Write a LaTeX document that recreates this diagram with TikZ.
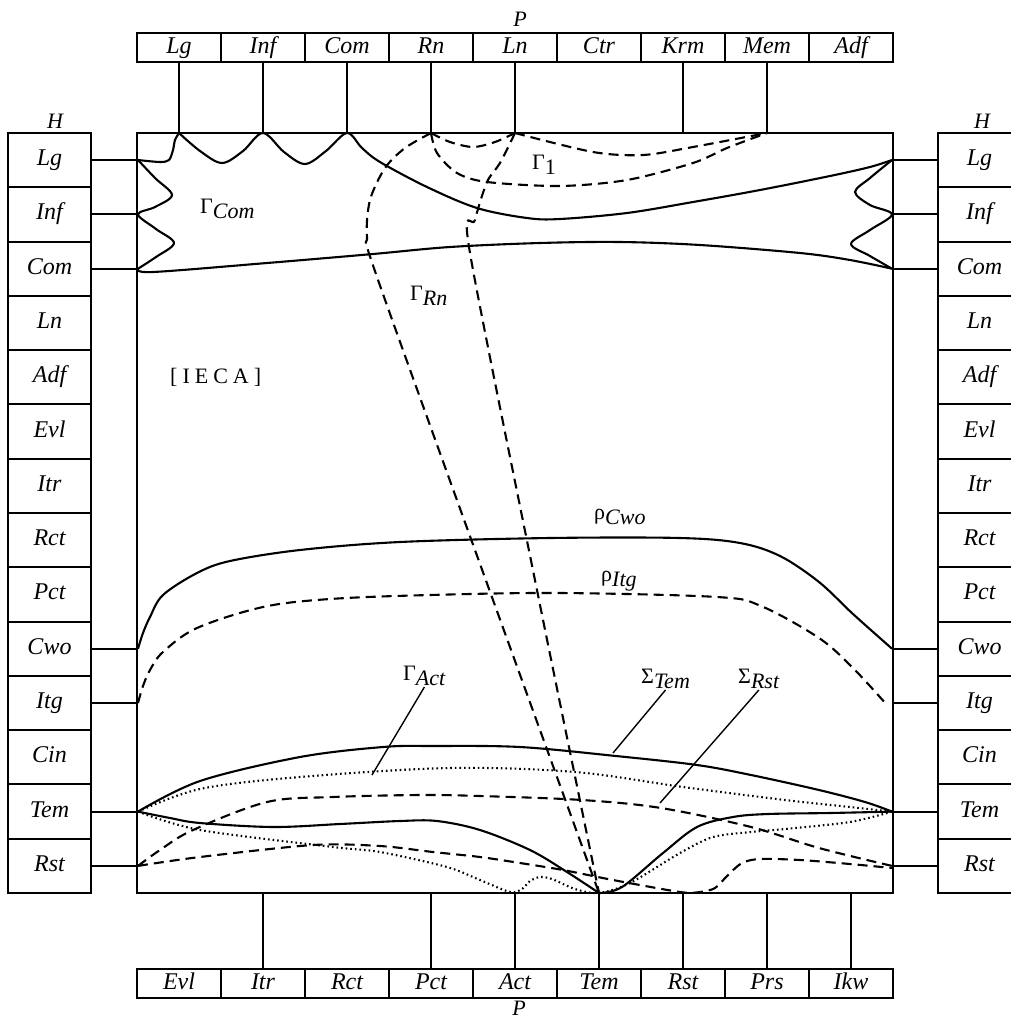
\documentclass[tikz,border=0pt]{standalone}
\usepackage{fontspec}
\setmainfont{Liberation Serif}
\newcommand{\glab}[2]{#1\raisebox{-0.55ex}{\textit{#2}}}
\begin{document}
\begin{tikzpicture}[x=1pt,y=-1pt,
  cell/.style={draw, line width=2pt, inner sep=0pt, minimum width=84pt, minimum height=29pt, text height=16pt, text depth=5pt, font=\itshape\fontsize{24}{26}\selectfont},
  side/.style={draw, line width=2pt, inner sep=0pt, minimum width=83pt, minimum height=54.29pt, text height=16pt, text depth=5pt, font=\itshape\fontsize{24}{26}\selectfont},
  mainbox/.style={draw, line width=2.2pt, inner sep=0pt, minimum width=756pt, minimum height=760pt},
  link/.style={line width=2.1pt},
  solidc/.style={line width=2.1pt, line join=round},
  dashc/.style={line width=2.1pt, dash pattern=on 10pt off 6pt},
  dotc/.style={line width=2.1pt, dash pattern=on 1.6pt off 3pt},
  leader/.style={line width=1.4pt},
  lab/.style={inner sep=1pt, font=\fontsize{22}{24}\selectfont},
  axislab/.style={inner sep=0pt, font=\itshape\fontsize{22}{24}\selectfont}]
\useasboundingbox (0,0) rectangle (1011,1021);

% main frame
\node[mainbox] (main) at (515,513) {};

% top and bottom bars
\foreach \n [count=\i] in {Lg,Inf,Com,Rn,Ln,Ctr,Krm,Mem,Adf}
  \node[cell] (t\i) at ({137+84*(\i-0.5)},47.5) {\n};
\foreach \n [count=\i] in {Evl,Itr,Rct,Pct,Act,Tem,Rst,Prs,Ikw}
  \node[cell] (b\i) at ({137+84*(\i-0.5)},983.5) {\n};

% side columns
\foreach \n [count=\i] in {Lg,Inf,Com,Ln,Adf,Evl,Itr,Rct,Pct,Cwo,Itg,Cin,Tem,Rst}{
  \node[side] (l\i) at (49.5,{133+54.2857*(\i-0.5)}) {\n};
  \node[side] (r\i) at (979.5,{133+54.2857*(\i-0.5)}) {\n};
}

% axis labels
\node[axislab] (ptop) at (520,19) {P};
\node[axislab] (pbot) at (519,1008) {P};
\node[axislab] (hl) at (55,121) {H};
\node[axislab] (hr) at (982,121) {H};

% connectors
\foreach \i in {1,2,3,4,5,7,8}
  \draw[link] (t\i.south) -- (t\i.south |- main.north);
\foreach \i in {2,4,5,6,7,8,9}
  \draw[link] (b\i.north) -- (b\i.north |- main.south);
\foreach \i in {1,2,3,10,11,13,14}{
  \draw[link] (l\i.east) -- (l\i.east -| main.west);
  \draw[link] (r\i.west) -- (r\i.west -| main.east);
}

% ---- Gamma_Com region (solid) ----
\draw[solidc] plot[smooth, tension=0.5] coordinates {(138,160) (160,162) (169,160) (173,150) (175,140) (179,133)};
\draw[solidc] plot[smooth, tension=0.55] coordinates {(179,133) (200,151) (222,163) (243,151) (263,133) (284,152) (305,164) (326,151) (347,133) (362,148) (380,162) (427,187) (477,208) (527,218) (560,219) (627,213) (693,202) (760,190) (830,176) (870,167) (892,160)};
\draw[solidc] plot[smooth, tension=0.55] coordinates {(138,160) (155,178) (172,195) (155,207) (138,214.4) (156,229) (174,243) (156,257) (138,268.7)};
\draw[solidc] plot[smooth, tension=0.55] coordinates {(138,268.7) (153,272) (267,263) (373,254) (450,247) (540,243) (620,242) (700,245) (800,253) (850,260) (892,268.7)};
\draw[solidc] plot[smooth, tension=0.55] coordinates {(892,160) (870,178) (855,192) (870,205) (892,214.4) (870,230) (851,244) (870,256) (892,268.7)};

% ---- Gamma_1 and Gamma_Rn (dashed) ----
\draw[dashc] plot[smooth] coordinates {(431,133) (450,142) (473,147) (495,142) (515,133)};
\draw[dashc] plot[smooth] coordinates {(515,133) (593,152) (643,155) (693,147) (767,133)};
\draw[dashc] plot[smooth] coordinates {(431,133) (437,153) (457,173) (487,182) (560,186) (627,180) (693,163) (727,148) (767,133)};
\draw[dashc] plot[smooth] coordinates {(431,133) (405,148) (385,168) (370,200) (367,237) (377,277) (493,600) (599,893)};
\draw[dashc] plot[smooth] coordinates {(515,133) (500,163) (487,182) (475,220) (470,253) (539,600) (599,893)};

% ---- rho curves ----
\draw[solidc] plot[smooth, tension=0.55] coordinates {(138,648.7) (143,633) (150,617) (163,595) (197,573) (230,561) (300,550) (400,542) (550,538) (680,538) (740,543) (780,556) (819,582) (853,614) (892,648.7)};
\draw[dashc] plot[smooth, tension=0.55] coordinates {(138,703) (143,686) (150,670) (163,652) (197,628) (263,607) (330,599) (430,595) (560,593) (717,597) (761,606) (819,638) (853,668) (887,705)};

% ---- bottom group ----
\draw[solidc] plot[smooth, tension=0.55] coordinates {(138,811.6) (200,781) (300,757) (383,747) (433,746) (520,747) (616,756) (697,765) (751,775) (819,790) (865,802) (892,811.6)};
\draw[dotc] plot[smooth, tension=0.55] coordinates {(138,811.6) (200,789) (300,777) (450,768) (575,772) (683,787) (785,800) (850,807) (892,811.6)};
\draw[solidc] plot[smooth, tension=0.55] coordinates {(138,811.6) (170,818) (200,823) (273,827) (340,824) (400,821) (437,821) (480,830) (530,850) (567,872) (599,893)};
\draw[solidc] plot[smooth, tension=0.55] coordinates {(599,893) (622,887) (663,853) (697,827) (733,817) (768,814) (830,813) (892,811.6)};
\draw[dotc] plot[smooth, tension=0.5] coordinates {(138,811.6) (200,830) (333,847) (380,852) (447,867) (480,880) (510,892) (522,889) (530,881) (540,877) (552,879) (575,889) (599,893) (630,883) (680,853) (713,837) (751,832) (785,829) (850,822) (892,811.6)};
\draw[dashc] plot[smooth, tension=0.55] coordinates {(138,865.9) (160,850) (193,830) (267,802) (333,797) (420,795) (480,796) (582,800) (661,808) (751,827) (819,848) (892,865.9)};
\draw[dashc] plot[smooth, tension=0.5] coordinates {(138,865.9) (200,857) (313,845) (380,846) (433,852) (480,857) (520,863) (563,870) (613,880) (680,892) (700,892) (715,888) (728,875) (742,863) (760,859) (800,860) (850,864) (892,868)};

% ---- labels ----
\node[lab, anchor=base west] (gcom) at (199,213) {\glab{Γ}{Com}};
\node[lab, anchor=base west] (g1) at (531,169) {\glab{Γ}{\upshape 1}};
\node[lab, anchor=base west] (grn) at (409,300) {\glab{Γ}{Rn}};
\node[lab, anchor=base west] (ieca) at (169,383) {[\kern5pt I\kern5pt E\kern5pt C\kern5pt A\kern5pt]};
\node[lab, anchor=base west] (rcwo) at (593,519) {\glab{ρ}{Cwo}};
\node[lab, anchor=base west] (ritg) at (600,581) {\glab{ρ}{Itg}};
\node[lab, anchor=base west] (gact) at (402,680) {\glab{Γ}{Act}};
\node[lab, anchor=base west] (stem) at (640,683) {\glab{Σ}{Tem}};
\node[lab, anchor=base west] (srst) at (737,683) {\glab{Σ}{Rst}};

% leaders
\coordinate (pact) at (372,775);
\coordinate (ptem) at (613,753);
\coordinate (prst) at (660,803);
\draw[leader] (gact.south) -- (pact);
\draw[leader] (stem.south) -- (ptem);
\draw[leader] (srst.south) -- (prst);
\end{tikzpicture}
\end{document}
